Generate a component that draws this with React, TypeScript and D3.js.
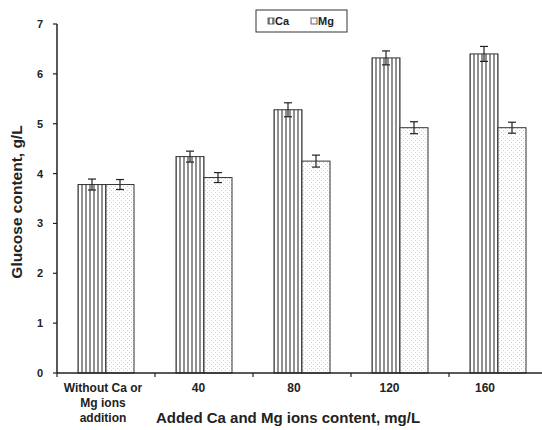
import React from "react";
import * as d3 from "d3";

const categories = ["Without Ca or Mg ions addition", "40", "80", "120", "160"];
const series = ["Ca", "Mg"];
const caValues = [3.78, 4.34, 5.28, 6.32, 6.4];
const mgValues = [3.78, 3.92, 4.25, 4.92, 4.92];
const caErrors = [0.11, 0.11, 0.14, 0.14, 0.15];
const mgErrors = [0.1, 0.1, 0.12, 0.12, 0.11];
const yTicks = [0, 1, 2, 3, 4, 5, 6, 7];

const W = 542;
const H = 430;
const left = 57;
const right = 547;
const top = 24;
const bottom = 373;
const font = "'Liberation Sans', Arial, sans-serif";

export default function App() {
  const x0 = d3.scaleBand().domain(categories).range([left, right]).paddingInner(0).paddingOuter(0);
  const x1 = d3.scaleBand().domain(series).range([0, x0.bandwidth()]).paddingInner(0).paddingOuter(0.75);
  const y = d3.scaleLinear().domain([0, 7]).range([bottom, top]);

  const vals = [caValues, mgValues];
  const errs = [caErrors, mgErrors];
  const fills = ["url(#vlines)", "url(#checks)"];

  const bounds = d3.range(categories.length + 1).map((i) => left + i * x0.step());

  return (
    <svg width={W} height={H} style={{ position: "absolute", left: 0, top: 0, background: "#fff" }}>
      <defs>
        <pattern id="vlines" width="4" height="4" patternUnits="userSpaceOnUse">
          <rect width="4" height="4" fill="#fff" />
          <line x1="1" y1="0" x2="1" y2="4" stroke="#555" strokeWidth="1.3" />
        </pattern>
        <pattern id="checks" width="4" height="4" patternUnits="userSpaceOnUse">
          <rect width="4" height="4" fill="#fff" />
          <rect x="0" y="0" width="1" height="1" fill="#cfcfcf" />
          <rect x="2" y="2" width="1" height="1" fill="#cfcfcf" />
        </pattern>
      </defs>

      {categories.map((c, i) => (
        <g key={c} transform={`translate(${x0(c)},0)`}>
          {series.map((s, k) => {
            const bx = x1(s) as number;
            const bw = x1.bandwidth();
            const v = vals[k][i];
            const e = errs[k][i];
            const cx = bx + bw / 2;
            return (
              <g key={s}>
                <rect x={bx} y={y(v)} width={bw} height={bottom - y(v)} fill={fills[k]} stroke="#333" strokeWidth={1} />
                <line x1={cx} x2={cx} y1={y(v + e)} y2={y(v - e)} stroke="#222" strokeWidth={1.2} />
                <line x1={cx - 4} x2={cx + 4} y1={y(v + e)} y2={y(v + e)} stroke="#222" strokeWidth={1.2} />
                <line x1={cx - 4} x2={cx + 4} y1={y(v - e)} y2={y(v - e)} stroke="#222" strokeWidth={1.2} />
              </g>
            );
          })}
        </g>
      ))}

      {/* axes */}
      <line x1={left} x2={left} y1={top} y2={bottom} stroke="#222" strokeWidth={1.5} />
      <line x1={left} x2={right} y1={bottom} y2={bottom} stroke="#222" strokeWidth={1.5} />
      {yTicks.map((t) => (
        <g key={t}>
          <line x1={left - 4} x2={left} y1={y(t)} y2={y(t)} stroke="#222" strokeWidth={1.2} />
          <text x={left - 14} y={y(t) + 4} textAnchor="end" fontFamily={font} fontWeight="bold" fontSize={11} fill="#222">
            {t}
          </text>
        </g>
      ))}
      {bounds.map((b, i) => (
        <line key={i} x1={b} x2={b} y1={bottom} y2={bottom + 4} stroke="#222" strokeWidth={1.2} />
      ))}
      {categories.map((c, i) => {
        const cx = (x0(c) as number) + x0.bandwidth() / 2 - 3 - i * 2.5;
        const lines = i === 0 ? ["Without Ca or", "Mg ions", "addition"] : [c];
        return (
          <text key={c} x={cx} y={392} textAnchor="middle" fontFamily={font} fontWeight="bold" fontSize={12} fill="#222">
            {lines.map((l, j) => (
              <tspan key={j} x={cx} dy={j === 0 ? 0 : 15}>
                {l}
              </tspan>
            ))}
          </text>
        );
      })}

      <text
        transform={`translate(22,${202}) rotate(-90)`}
        textAnchor="middle"
        fontFamily={font}
        fontWeight="bold"
        fontSize={15.5}
        fill="#222"
      >
        Glucose content, g/L
      </text>
      <text x={288} y={423} textAnchor="middle" fontFamily={font} fontWeight="bold" fontSize={15} fill="#222">
        Added Ca and Mg ions content, mg/L
      </text>

      {/* legend */}
      <rect x={256} y={10} width={91} height={22} fill="#fff" stroke="#333" strokeWidth={1} />
      {series.map((s, k) => (
        <g key={s} transform={`translate(${268 + k * 43},21)`}>
          <rect x={0} y={-3} width={6} height={6} fill={fills[k]} stroke="#444" strokeWidth={0.8} />
          <text x={7} y={4} fontFamily={font} fontWeight="bold" fontSize={11} fill="#222">
            {s}
          </text>
        </g>
      ))}
    </svg>
  );
}
